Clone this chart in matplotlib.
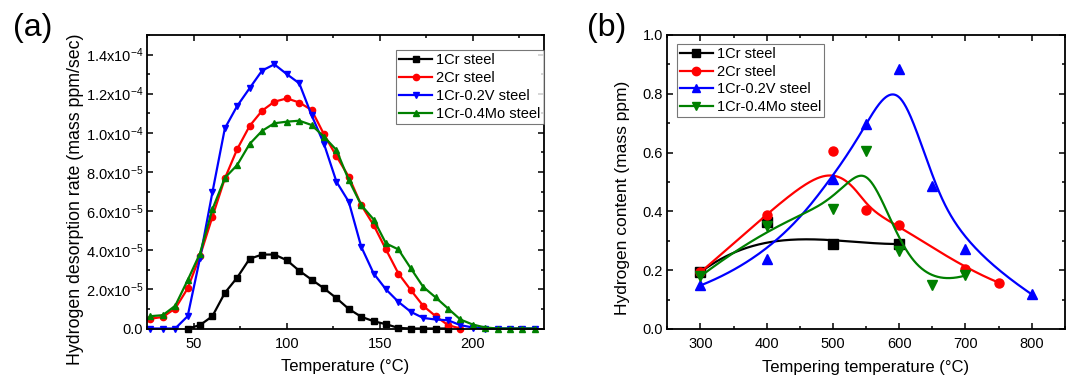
import numpy as np
import matplotlib
matplotlib.use("Agg")
import matplotlib.pyplot as plt
from matplotlib.ticker import MultipleLocator, FixedLocator

plt.rcParams['font.family'] = ['Liberation Sans', 'DejaVu Sans']
plt.rcParams['mathtext.fontset'] = 'custom'
plt.rcParams['mathtext.rm'] = 'Liberation Sans'
plt.rcParams['mathtext.it'] = 'Liberation Sans:italic'
plt.rcParams['mathtext.bf'] = 'Liberation Sans:bold'

# ---------------- Panel (a) data: desorption rate (x1e-5 mass ppm/sec) ----------------
temps_a = [26.7, 33.3, 40.0, 46.7, 53.3, 60.0, 66.7, 73.3, 80.0, 86.7, 93.3, 100.0,
           106.7, 113.3, 120.0, 126.7, 133.3, 140.0, 146.7, 153.3, 160.0, 166.7,
           173.3, 180.0, 186.7, 193.3, 200.0, 206.7, 213.3, 220.0, 226.7, 233.3]

cr1_rate = [0.0, 0.17, 0.63, 1.82, 2.6, 3.56, 3.78, 3.78, 3.49, 2.95, 2.5, 2.05,
            1.55, 1.0, 0.6, 0.37, 0.22, 0.03, 0.0, 0.0, 0.0, 0.0]          # from 46.7
cr2_rate = [0.5, 0.59, 1.02, 2.05, 3.7, 5.71, 7.67, 9.16, 10.35, 11.13, 11.59, 11.76,
            11.55, 11.17, 9.92, 8.8, 7.76, 6.31, 5.28, 4.04, 2.81, 1.96, 1.16, 0.63,
            0.17, 0.0]                                                       # to 193.3
v_rate = [0.0, 0.0, 0.0, 0.63, 3.58, 6.96, 10.23, 11.37, 12.28, 13.18, 13.5, 13.0,
          12.53, 10.91, 9.43, 7.5, 6.48, 4.18, 2.81, 2.0, 1.36, 0.85, 0.54, 0.46,
          0.42, 0.17, 0.05, 0.0, 0.0, 0.0, 0.0, 0.0]
mo_rate = [0.63, 0.68, 1.16, 2.47, 3.83, 6.09, 7.7, 8.35, 9.43, 10.1, 10.49, 10.57,
           10.62, 10.4, 9.8, 9.12, 7.59, 6.31, 5.57, 4.35, 4.04, 3.07, 2.13, 1.59,
           1.02, 0.46, 0.2, 0.05, 0.0, 0.0, 0.0, 0.0]

# ---------------- Panel (b) data: hydrogen content (mass ppm) ----------------
cr1_T = [300, 400, 500, 600]
cr1_H = [0.193, 0.363, 0.289, 0.289]
cr2_T = [300, 400, 500, 550, 600, 700, 750]
cr2_H = [0.193, 0.387, 0.607, 0.404, 0.353, 0.204, 0.158]
v_T = [300, 400, 500, 550, 600, 650, 700, 800]
v_H = [0.148, 0.238, 0.509, 0.696, 0.886, 0.488, 0.272, 0.118]
mo_T = [300, 400, 500, 550, 600, 650, 700]
mo_H = [0.179, 0.349, 0.408, 0.606, 0.267, 0.150, 0.182]

a_yticks = [0, 2e-5, 4e-5, 6e-5, 8e-5, 1e-4, 1.2e-4, 1.4e-4]
a_yticklabels = ['0.0', r'$\mathregular{2.0x10^{-5}}$', r'$\mathregular{4.0x10^{-5}}$',
                 r'$\mathregular{6.0x10^{-5}}$', r'$\mathregular{8.0x10^{-5}}$',
                 r'$\mathregular{1.0x10^{-4}}$', r'$\mathregular{1.2x10^{-4}}$',
                 r'$\mathregular{1.4x10^{-4}}$']


def bspline(xs, ys, n=400):
    """Clamped uniform cubic B-spline using the data points as control points."""
    P = np.column_stack([xs, ys]).astype(float)
    m = len(P)
    k = 3
    inner = list(range(1, m - k))
    knots = np.array([0] * (k + 1) + inner + [m - k] * (k + 1), dtype=float)
    t = np.linspace(0, m - k, n)
    t[-1] -= 1e-9

    def basis(i, p, tt):
        if p == 0:
            return np.where((knots[i] <= tt) & (tt < knots[i + 1]), 1.0, 0.0)
        left = 0.0
        d1 = knots[i + p] - knots[i]
        if d1 > 0:
            left = (tt - knots[i]) / d1 * basis(i, p - 1, tt)
        right = 0.0
        d2 = knots[i + p + 1] - knots[i + 1]
        if d2 > 0:
            right = (knots[i + p + 1] - tt) / d2 * basis(i + 1, p - 1, tt)
        return left + right

    B = np.array([basis(i, k, t) for i in range(m)])
    C = B.T @ P
    return C[:, 0], C[:, 1]


fig = plt.figure(figsize=(10.72, 3.8), dpi=100)
axa = fig.add_axes([147.3 / 1072, 1 - 328.5 / 380, (543.5 - 147.3) / 1072, 293.5 / 380])
axb = fig.add_axes([667.3 / 1072, 1 - 329.0 / 380, (1064.8 - 667.3) / 1072, 294.0 / 380])

scale = 1e-5
ta = np.array(temps_a)
lw = 1.6
axa.plot(ta[3:3 + len(cr1_rate)], np.array(cr1_rate) * scale, '-s', color='black', lw=lw, ms=4.2,
         label='1Cr steel', clip_on=False)
axa.plot(ta[:len(cr2_rate)], np.array(cr2_rate) * scale, '-o', color='#ff0000', lw=lw, ms=4.5,
         label='2Cr steel', clip_on=False)
axa.plot(ta[:len(v_rate)], np.array(v_rate) * scale, '-v', color='#0000ff', lw=lw, ms=5,
         label='1Cr-0.2V steel', clip_on=False)
axa.plot(ta[:len(mo_rate)], np.array(mo_rate) * scale, '-^', color='#008000', lw=lw, ms=5,
         label='1Cr-0.4Mo steel', clip_on=False)

axa.set_xlim(25, 238)
axa.set_ylim(0, 1.5e-4)
axa.xaxis.set_major_locator(FixedLocator([50, 100, 150, 200]))
axa.xaxis.set_minor_locator(MultipleLocator(25))
axa.yaxis.set_major_locator(FixedLocator(a_yticks))
axa.set_yticklabels(a_yticklabels)
axa.yaxis.set_minor_locator(MultipleLocator(1e-5))
axa.set_xlabel('Temperature (°C)', fontsize=12, labelpad=6)
axa.set_ylabel('Hydrogen desorption rate (mass ppm/sec)', fontsize=12.8)
axa.yaxis.set_label_coords(-0.161, 0.441)
leg = axa.legend(loc='upper right', bbox_to_anchor=(1.0, 0.95), fontsize=10.5, frameon=True,
                 fancybox=False, borderaxespad=0, handlelength=2.2, handletextpad=0.3,
                 labelspacing=0.27, borderpad=0.22)
leg.get_frame().set_edgecolor('#555555')
leg.get_frame().set_linewidth(0.8)

# panel b
for T, H, col, m, lab in [(cr1_T, cr1_H, 'black', 's', '1Cr steel'),
                          (cr2_T, cr2_H, '#ff0000', 'o', '2Cr steel'),
                          (v_T, v_H, '#0000ff', '^', '1Cr-0.2V steel'),
                          (mo_T, mo_H, '#008000', 'v', '1Cr-0.4Mo steel')]:
    sx, sy = bspline(T, H)
    axb.plot(sx, sy, '-', color=col, lw=lw)
    axb.plot(T, H, m, color=col, ms=6.5, clip_on=False)
    axb.plot([], [], '-' + m, color=col, lw=lw, ms=6, label=lab)

axb.set_xlim(250, 850)
axb.set_ylim(0, 1.0)
axb.xaxis.set_minor_locator(MultipleLocator(50))
axb.yaxis.set_minor_locator(MultipleLocator(0.1))
axb.set_xticks([300, 400, 500, 600, 700, 800])
axb.set_yticks([0.0, 0.2, 0.4, 0.6, 0.8, 1.0])
axb.set_yticklabels(['0.0', '0.2', '0.4', '0.6', '0.8', '1.0'])
axb.set_xlabel('Tempering temperature (°C)', fontsize=12, labelpad=6)
axb.set_ylabel('Hydrogen content (mass ppm)', fontsize=12.5)
axb.yaxis.set_label_coords(-0.094, 0.447)
legb = axb.legend(loc='upper left', bbox_to_anchor=(0.025, 0.97), fontsize=10.5, frameon=True,
                  fancybox=False, borderaxespad=0, handlelength=2.2, handletextpad=0.3,
                  labelspacing=0.25, borderpad=0.22)
legb.get_frame().set_edgecolor('#555555')
legb.get_frame().set_linewidth(0.8)

for ax in (axa, axb):
    for s in ax.spines.values():
        s.set_linewidth(1.3)
    ax.tick_params(which='both', direction='in', top=True, right=True, width=1.1,
                   labelsize=10.5)
    ax.tick_params(which='major', length=4.5)
    ax.tick_params(which='minor', length=2.5)
    ax.tick_params(axis='x', pad=6)
    ax.tick_params(axis='y', pad=3)

fig.text(13 / 1072, 1 - 28 / 380, '(a)', fontsize=23, va='center', ha='left')
fig.text(587 / 1072, 1 - 28 / 380, '(b)', fontsize=23, va='center', ha='left')

fig.savefig('out.png', dpi=100)
